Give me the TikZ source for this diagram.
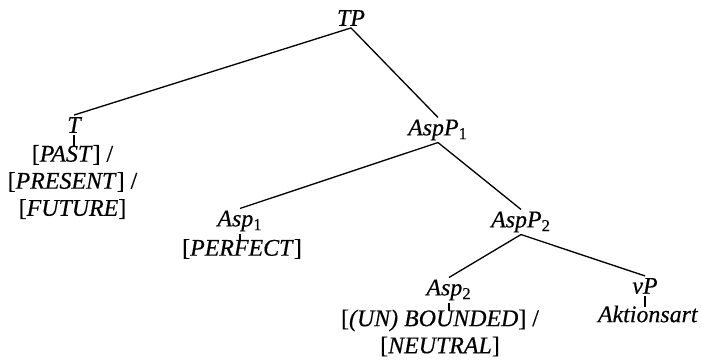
\documentclass[tikz,border=0pt]{standalone}
\usepackage{fontspec}
\setmainfont[FakeBold=0.4]{Liberation Serif}
\usepackage{tikz}
\usetikzlibrary{positioning}

\begin{document}
\begin{tikzpicture}[
  cat/.style={inner sep=1pt, font=\fontsize{13.6}{15.4}\selectfont\itshape},
  feat/.style={inner sep=1pt, align=center, font=\fontsize{13.6}{15.4}\selectfont},
  branch/.style={line width=0.75pt},
  tick/.style={line width=0.7pt},
]
\useasboundingbox (0,0) rectangle (14.04,-7.2);
% categories
\node[cat] (tp)    at (7.02,-0.36) {TP};
\node[cat] (t)     at (1.48,-2.50) {T};
\node[cat] (aspp1) at (8.76,-2.60) {AspP\textsubscript{\upshape 1}};
\node[cat] (asp1)  at (4.80,-4.42) {Asp\textsubscript{\upshape 1}};
\node[cat] (aspp2) at (10.42,-4.44) {AspP\textsubscript{\upshape 2}};
\node[cat] (asp2)  at (8.98,-5.80) {Asp\textsubscript{\upshape 2}};
\node[cat] (vp)    at (12.90,-5.72) {vP};
% features
\node[feat] (tf)    at (1.45,-3.64) {[\textit{PAST}] /\\{}[\textit{PRESENT}] /\\{}[\textit{FUTURE}]};
\node[feat] (asp1f) at (4.84,-4.98) {[\textit{PERFECT}]};
\node[feat] (asp2f) at (8.80,-6.66) {[\textit{(UN) BOUNDED}] /\\{}[\textit{NEUTRAL}]};
\node[feat] (vpf)   at (12.96,-6.28) {\textit{Aktionsart}};
% branches
\draw[branch] (tp.south) -- (t.north);
\draw[branch] (tp.south) -- (aspp1.north);
\draw[branch] (aspp1.south) -- (asp1.north);
\draw[branch] (aspp1.south) -- (aspp2.north);
\draw[branch] (aspp2.south) -- (asp2.north);
\draw[branch] (aspp2.south) -- (vp.north);
% ticks
\draw[tick] (t.south) -- ([yshift=-2pt]t.south |- tf.north);
\draw[tick] (asp1.south) -- ([yshift=-2pt]asp1.south |- asp1f.north);
\draw[tick] (asp2.south) -- ([yshift=-2pt]asp2.south |- asp2f.north);
\draw[tick] (vp.south) -- ([yshift=-2pt]vp.south |- vpf.north);
\end{tikzpicture}
\end{document}
